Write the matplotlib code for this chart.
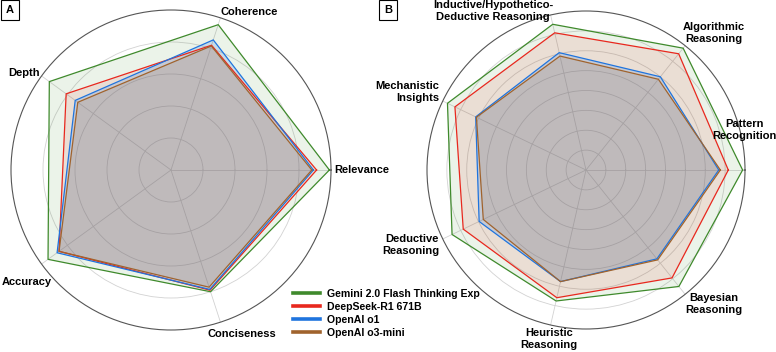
import numpy as np
import matplotlib
matplotlib.use("Agg")
import matplotlib.pyplot as plt
from matplotlib.lines import Line2D

plt.rcParams['font.family'] = ['Liberation Sans', 'DejaVu Sans']

MODELS = ['Gemini 2.0 Flash Thinking Exp', 'DeepSeek-R1 671B', 'OpenAI o1', 'OpenAI o3-mini']
COLORS = ['#3f8a2c', '#e8281e', '#1f74de', '#a0632d']
ALPHAS = [0.10, 0.10, 0.18, 0.15]

# Panel A - answer quality
cats_a = ['Relevance', 'Coherence', 'Depth', 'Accuracy', 'Conciseness']
gemini_a = [0.99, 0.955, 0.94, 0.95, 0.80]
deepseek_a = [0.91, 0.82, 0.81, 0.865, 0.79]
o1_a = [0.89, 0.855, 0.74, 0.88, 0.785]
o3_a = [0.88, 0.815, 0.72, 0.865, 0.77]

# Panel B - reasoning types
cats_b = ['Pattern\nRecognition', 'Algorithmic\nReasoning',
          'Inductive/Hypothetico-\nDeductive Reasoning', 'Mechanistic\nInsights',
          'Deductive\nReasoning', 'Heuristic\nReasoning', 'Bayesian\nReasoning']
gemini_b = [0.985, 0.98, 0.94, 0.967, 0.935, 0.845, 0.937]
deepseek_b = [0.895, 0.935, 0.885, 0.915, 0.857, 0.824, 0.868]
o1_b = [0.835, 0.75, 0.757, 0.77, 0.746, 0.72, 0.715]
o3_b = [0.845, 0.73, 0.735, 0.765, 0.717, 0.72, 0.723]

# label placement (angle in degrees, radius, ha)
LABELS_A = [(0, 1.19, 'center'), (63.7, 1.105, 'center'), (146.4, 1.10, 'center'),
            (217.9, 1.14, 'center'), (293.4, 1.12, 'center')]
LABELS_B = [(14.3, 1.03, 'center'), (46.9, 1.18, 'center'), (120.3, 1.16, 'center'),
            (152.0, 1.047, 'right'), (207.0, 1.038, 'right'), (257.6, 1.088, 'center'),
            (313.7, 1.166, 'center')]


def radar(ax, cats, series, rings, labels):
    """Draws one radar panel"""
    n = len(cats)
    theta = np.linspace(0, 2 * np.pi, n, endpoint=False)
    closed = np.append(theta, theta[0])
    for vals, col, a in zip(series, COLORS, ALPHAS):
        v = np.append(vals, vals[0])
        ax.fill(closed, v, color=col, alpha=a, lw=0, zorder=2)
    for vals, col in zip(series, COLORS):
        v = np.append(vals, vals[0])
        ax.plot(closed, v, color=col, lw=0.9, zorder=3)
    ax.set_ylim(0, 1)
    ax.set_xticks(theta)
    ax.set_xticklabels([])
    ax.set_yticks(rings)
    ax.set_yticklabels([])
    ax.grid(True, color='#d2d2d2', lw=0.6)
    ax.spines['polar'].set_color('#555555')
    ax.spines['polar'].set_linewidth(0.8)
    for name, (ang, r, ha) in zip(cats, labels):
        ax.text(np.deg2rad(ang), r, name, ha=ha, va='center', ma=ha,
                fontsize=8, fontweight='bold', linespacing=1.25, zorder=5)


def main():
    fig = plt.figure(figsize=(7.76, 3.52), dpi=100)
    ax_a = fig.add_axes([11 / 776, 22 / 352, 320 / 776, 320 / 352], projection='polar')
    ax_b = fig.add_axes([427 / 776, 23 / 352, 318 / 776, 318 / 352], projection='polar')
    radar(ax_a, cats_a, [gemini_a, deepseek_a, o1_a, o3_a], [0.2, 0.4, 0.6, 0.8], LABELS_A)
    radar(ax_b, cats_b, [gemini_b, deepseek_b, o1_b, o3_b],
          [0.125, 0.25, 0.375, 0.5, 0.625, 0.75, 0.875], LABELS_B)

    for x, letter in [(10 / 776, 'A'), (388 / 776, 'B')]:
        fig.text(x, 1 - 10 / 352, letter, ha='center', va='center', fontsize=8,
                 fontweight='bold',
                 bbox=dict(boxstyle='square,pad=0.45', fc='white', ec='black', lw=0.8))

    handles = [Line2D([0], [0], color=c, lw=2.6) for c in COLORS]
    fig.legend(handles, MODELS, loc='upper left', bbox_to_anchor=(293 / 776, 1 - 289 / 352),
               frameon=False, prop={'weight': 'bold', 'size': 7.6}, borderpad=0,
               handlelength=2.6, handletextpad=0.6, labelspacing=0.28, borderaxespad=0)
    fig.savefig('out.png', dpi=100)


main()
